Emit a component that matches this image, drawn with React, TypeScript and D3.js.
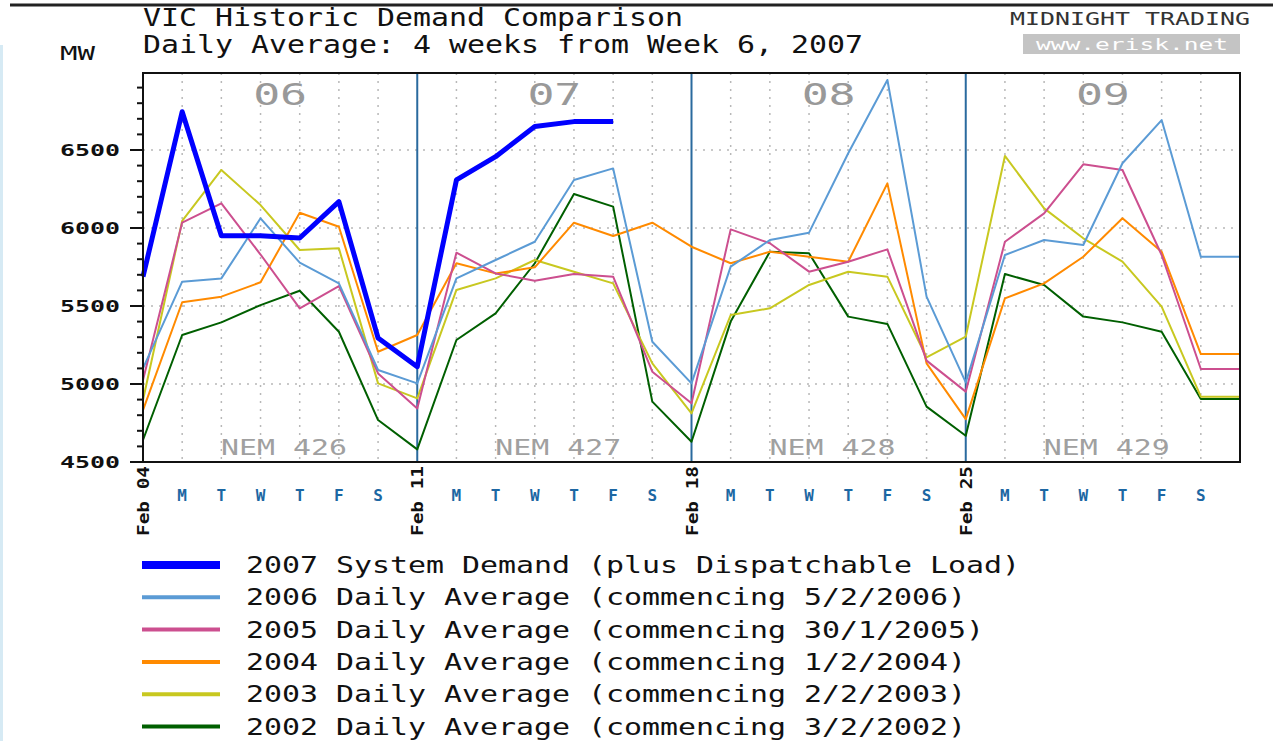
import * as d3 from 'd3';
import React from 'react';

// daily averages, one value per day starting Sun Feb 04 (last value repeats to close the chart)
const days = d3.range(0, 29);
const y2007 = [5688, 6745, 5951, 5951, 5936, 6169, 5295, 5111, 6308, 6457, 6650, 6682, 6682];
const y2006 = [5100, 5656, 5677, 6062, 5778, 5645, 5090, 5004, 5677, 5795, 5912, 6308, 6382, 5271, 5004, 5752, 5923, 5970, 6479, 6949, 5560, 5010, 5827, 5923, 5891, 6415, 6692, 5816, 5816];
const y2005 = [5026, 6035, 6158, 5830, 5485, 5628, 5068, 4843, 5842, 5709, 5662, 5705, 5688, 5079, 4876, 5991, 5902, 5720, 5784, 5863, 5150, 4951, 5912, 6094, 6408, 6372, 5827, 5096, 5096];
const y2004 = [4833, 5524, 5560, 5652, 6098, 6008, 5207, 5314, 5774, 5709, 5748, 6034, 5949, 6034, 5880, 5774, 5848, 5816, 5784, 6286, 5132, 4775, 5549, 5645, 5816, 6062, 5848, 5192, 5192];
const y2003 = [4897, 6045, 6372, 6147, 5859, 5870, 5004, 4908, 5603, 5677, 5795, 5720, 5645, 5132, 4812, 5442, 5485, 5635, 5720, 5688, 5170, 5303, 6462, 6126, 5934, 5784, 5496, 4919, 4919];
const y2002 = [4641, 5314, 5395, 5506, 5598, 5335, 4769, 4581, 5282, 5453, 5774, 6218, 6137, 4887, 4630, 5400, 5848, 5838, 5432, 5385, 4855, 4668, 5705, 5635, 5432, 5395, 5335, 4904, 4904];

const weekNums = ['06', '07', '08', '09'];
const nemLabels = ['NEM 426', 'NEM 427', 'NEM 428', 'NEM 429'];
const weekStarts = ['Feb 04', 'Feb 11', 'Feb 18', 'Feb 25'];
const dayLetters = ['M', 'T', 'W', 'T', 'F', 'S'];
const yTicks = [4500, 5000, 5500, 6000, 6500];

const series = [
  { name: '2007 System Demand (plus Dispatchable Load)', values: y2007, color: '#0000ff', width: 5, legendWidth: 8 },
  { name: '2006 Daily Average (commencing 5/2/2006)', values: y2006, color: '#5b9bd5', width: 2, legendWidth: 4 },
  { name: '2005 Daily Average (commencing 30/1/2005)', values: y2005, color: '#cc4f8f', width: 2, legendWidth: 4 },
  { name: '2004 Daily Average (commencing 1/2/2004)', values: y2004, color: '#ff8a00', width: 2, legendWidth: 4 },
  { name: '2003 Daily Average (commencing 2/2/2003)', values: y2003, color: '#c8c820', width: 2, legendWidth: 4 },
  { name: '2002 Daily Average (commencing 3/2/2002)', values: y2002, color: '#005f00', width: 2, legendWidth: 4 },
];

const W = 1273, H = 741;
const left = 143, right = 1240, top = 73, bottom = 462;
const mono = '"DejaVu Sans Mono", "Liberation Mono", monospace';

export default function App() {
  const x = d3.scaleLinear().domain([0, 28]).range([left, right]);
  const y = d3.scaleLinear().domain([4500, 7000]).range([bottom, bottom - 390]);
  const line = d3.line<number>().x((d, i) => x(days[i])).y(d => y(d));
  const minor = d3.range(4500, 7000, 100);

  return (
    <div>
      <style>{'body{margin:0}'}</style>
      <svg width={W} height={H} style={{ display: 'block', background: '#fff' }} fontFamily={mono}>
        <line x1={10} x2={W} y1={5} y2={5} stroke="#222" strokeWidth={3} />
        <line x1={1.5} x2={1.5} y1={45} y2={H} stroke="#d6eaf4" strokeWidth={3} />

        {/* titles */}
        <text x={143} y={26} fontSize={24} textLength={540} lengthAdjust="spacingAndGlyphs" fill="#111">VIC Historic Demand Comparison</text>
        <text x={143} y={53} fontSize={24} textLength={720} lengthAdjust="spacingAndGlyphs" fill="#111">Daily Average: 4 weeks from Week 6, 2007</text>
        <text x={60} y={60} fontSize={20} textLength={35} lengthAdjust="spacingAndGlyphs" fill="#111">MW</text>
        <text x={1010} y={25} fontSize={17} textLength={240} lengthAdjust="spacingAndGlyphs" fill="#333">MIDNIGHT TRADING</text>
        <rect x={1023} y={34} width={217} height={20} fill="#c4c4c4" />
        <text x={1036} y={50} fontSize={16} textLength={192} lengthAdjust="spacingAndGlyphs" fill="#fff">www.erisk.net</text>

        {/* grid */}
        {yTicks.slice(1).map(v => (
          <line key={'h' + v} x1={left} x2={right} y1={y(v)} y2={y(v)} stroke="#b8b8b8" strokeWidth={1.5} strokeDasharray="2,6" />
        ))}
        {days.slice(1, 28).filter(d => d % 7 !== 0).map(d => (
          <line key={'v' + d} x1={x(d)} x2={x(d)} y1={top} y2={bottom} stroke="#b8b8b8" strokeWidth={1.5} strokeDasharray="2,6" />
        ))}
        {[7, 14, 21].map(d => (
          <line key={'w' + d} x1={x(d)} x2={x(d)} y1={top} y2={bottom} stroke="#2a6a9e" strokeWidth={2} />
        ))}

        {/* week labels */}
        {weekNums.map((w, i) => (
          <text key={w} x={x(i * 7 + 3.5)} y={105} fontSize={30} textAnchor="middle" textLength={54} lengthAdjust="spacingAndGlyphs" fill="#999">{w}</text>
        ))}
        {nemLabels.map((n, i) => (
          <text key={n} x={x(i * 7 + 3.6)} y={455} fontSize={22} textAnchor="middle" textLength={126} lengthAdjust="spacingAndGlyphs" fill="#a0a0a0">{n}</text>
        ))}

        {/* series */}
        {series.slice().reverse().map(s => (
          <path key={s.name} d={line(s.values) || ''} fill="none" stroke={s.color} strokeWidth={s.width} strokeLinejoin="round" />
        ))}

        {/* frame */}
        <rect x={left} y={top} width={right - left} height={bottom - top} fill="none" stroke="#111" strokeWidth={2} />

        {/* y axis */}
        {minor.map(v => (
          <line key={'t' + v} x1={v % 500 === 0 ? 130 : 137} x2={left} y1={y(v)} y2={y(v)} stroke="#111" strokeWidth={2} />
        ))}
        {yTicks.map(v => (
          <text key={'l' + v} x={120} y={y(v) + 6} fontSize={16} fontWeight="bold" textAnchor="end" textLength={60} lengthAdjust="spacingAndGlyphs" fill="#111">{v}</text>
        ))}

        {/* x axis */}
        {weekStarts.map((lab, i) => (
          <text key={lab} transform={`translate(${x(i * 7) + 6},466) rotate(-90)`} fontSize={16} fontWeight="bold" textAnchor="end" textLength={70} lengthAdjust="spacingAndGlyphs" fill="#111">{lab}</text>
        ))}
        {weekStarts.map((_, w) => dayLetters.map((d, j) => (
          <text key={w + '-' + j} x={x(w * 7 + j + 1)} y={501} fontSize={16} fontWeight="bold" textAnchor="middle" fill="#1c67a3">{d}</text>
        )))}

        {/* legend */}
        {series.map((s, i) => {
          const ly = 565 + i * 32.3;
          return (
            <g key={'lg' + s.name}>
              <line x1={142} x2={220} y1={ly} y2={ly} stroke={s.color} strokeWidth={s.legendWidth} />
              <text x={246} y={ly + 8} fontSize={23} textLength={s.name.length * 18} lengthAdjust="spacingAndGlyphs" fill="#111">{s.name}</text>
            </g>
          );
        })}
      </svg>
    </div>
  );
}
